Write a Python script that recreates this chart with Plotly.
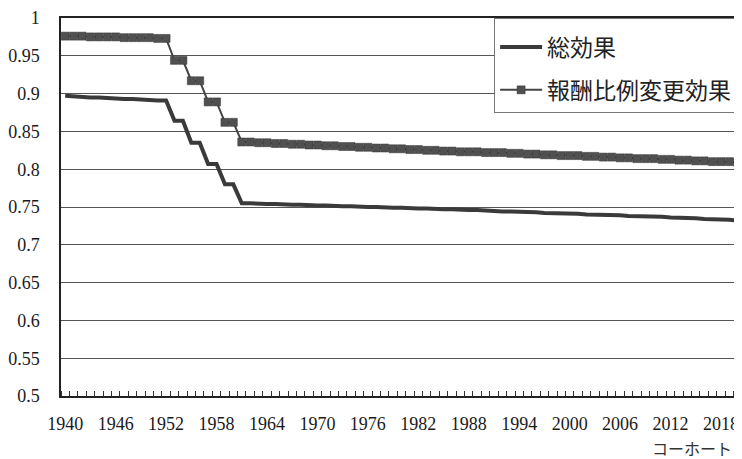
import plotly.graph_objects as go

years = list(range(1940, 2021))

total_effect = [
    0.897, 0.896, 0.896, 0.895, 0.895, 0.894, 0.894, 0.893, 0.893, 0.892,
    0.892, 0.891, 0.891,
    0.864, 0.864, 0.835, 0.835, 0.807, 0.807, 0.780, 0.780,
    0.755, 0.755, 0.754, 0.754, 0.754, 0.753, 0.753, 0.753, 0.752, 0.752,
    0.752, 0.751, 0.751, 0.751, 0.750, 0.750, 0.750, 0.749, 0.749, 0.749,
    0.748, 0.748, 0.748, 0.747, 0.747, 0.747, 0.746, 0.746, 0.746, 0.745,
    0.745, 0.744, 0.744, 0.744, 0.743, 0.743, 0.742, 0.742, 0.742, 0.741,
    0.741, 0.740, 0.740, 0.740, 0.739, 0.739, 0.738, 0.738, 0.737, 0.737,
    0.737, 0.736, 0.736, 0.735, 0.735, 0.734, 0.734, 0.733, 0.733, 0.732,
]

remuneration_effect = [
    0.976, 0.976, 0.976, 0.975, 0.975, 0.975, 0.975, 0.974, 0.974, 0.974,
    0.974, 0.973, 0.973,
    0.944, 0.944, 0.917, 0.917, 0.889, 0.889, 0.862, 0.862,
    0.836, 0.836, 0.835, 0.835, 0.834, 0.834, 0.833, 0.833, 0.832, 0.832,
    0.831, 0.831, 0.830, 0.830, 0.829, 0.829, 0.828, 0.828, 0.827, 0.827,
    0.826, 0.826, 0.825, 0.825, 0.824, 0.824, 0.823, 0.823, 0.823, 0.822,
    0.822, 0.822, 0.821, 0.821, 0.820, 0.820, 0.819, 0.819, 0.818, 0.818,
    0.818, 0.817, 0.817, 0.816, 0.816, 0.815, 0.815, 0.814, 0.814, 0.814,
    0.813, 0.813, 0.812, 0.812, 0.811, 0.811, 0.810, 0.810, 0.810, 0.809,
]

x_tick_vals = list(range(1940, 2019, 6))
x_tick_text = [str(v) for v in x_tick_vals]
y_tick_vals = [0.5, 0.55, 0.6, 0.65, 0.7, 0.75, 0.8, 0.85, 0.9, 0.95, 1.0]
y_tick_text = ["0.5", "0.55", "0.6", "0.65", "0.7", "0.75", "0.8", "0.85", "0.9", "0.95", "1"]

series_names = ["総効果", "報酬比例変更効果"]
x_title = "コーホート"

CJK = "Noto Sans CJK JP"
SERIF = "Liberation Serif"

fig = go.Figure()
fig.add_trace(go.Scatter(
    x=years, y=total_effect, name=series_names[0], mode="lines",
    line=dict(color="#3a3a3a", width=4), legendgroup="a",
))
fig.add_trace(go.Scatter(
    x=years, y=remuneration_effect, name=series_names[1], mode="lines+markers",
    line=dict(color="#444444", width=2),
    marker=dict(symbol="square", size=8, color="#505050",
                line=dict(color="#333333", width=0.5)),
    legendgroup="b",
))

fig.update_layout(
    width=734, height=451,
    margin=dict(l=50, r=0, t=8, b=63),
    paper_bgcolor="white", plot_bgcolor="white",
    font=dict(family=SERIF, size=18, color="#1a1a1a"),
    showlegend=True,
    legend=dict(
        x=0.636, y=1.0, xanchor="left", yanchor="top",
        bgcolor="white", bordercolor="#777777", borderwidth=1,
        font=dict(family=CJK, size=23, color="#222222"),
        traceorder="grouped", tracegroupgap=10, itemwidth=42,
        title=dict(text="&nbsp;", font=dict(size=5)),
    ),
    xaxis=dict(
        range=[1939.5, 2020.5],
        tickmode="array", tickvals=x_tick_vals, ticktext=x_tick_text,
        ticks="", showgrid=False, zeroline=False,
        showline=True, linecolor="#222222", linewidth=1.5,
        mirror=True,
        ticklabelstandoff=11,
        tickfont=dict(family=SERIF, size=18, color="#1a1a1a"),
        minor=dict(tick0=1939.5, dtick=1, ticks="inside", ticklen=5,
                   tickcolor="#333333", tickwidth=1, showgrid=False),
    ),
    yaxis=dict(
        range=[0.5, 1.0],
        tickmode="array", tickvals=y_tick_vals, ticktext=y_tick_text,
        ticks="", showgrid=True, gridcolor="#555555", gridwidth=1,
        zeroline=False,
        showline=True, linecolor="#222222", linewidth=1.5,
        ticklabelstandoff=16, ticklabeloverflow="allow",
        tickfont=dict(family=SERIF, size=18, color="#1a1a1a"),
    ),
    annotations=[dict(
        text=x_title, xref="paper", yref="paper",
        x=0.988, y=-0.137, xanchor="right", yanchor="middle",
        showarrow=False,
        font=dict(family=CJK, size=16, color="#333333"),
    )],
)

fig.write_html("out.html")
